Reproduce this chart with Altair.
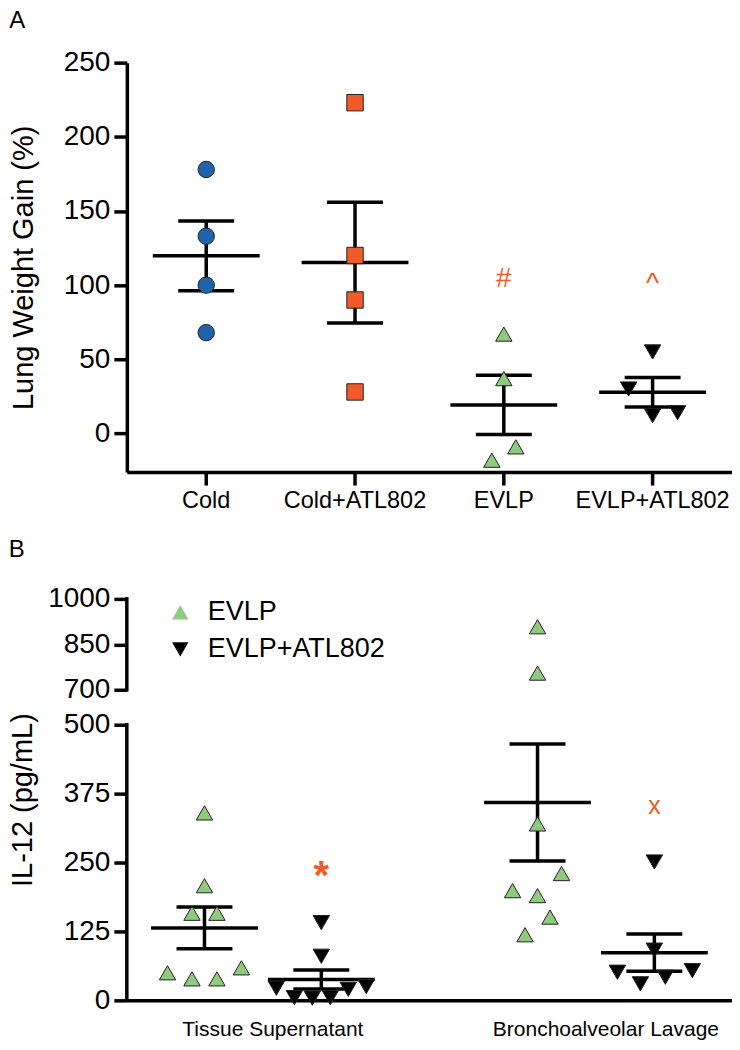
import altair as alt
import pandas as pd

FONT = "Liberation Sans"
ORANGE = "#f15a29"

# ---------------- Panel A data ----------------
groups_a = ["Cold", "Cold+ATL802", "EVLP", "EVLP+ATL802"]
cold = [178, 133, 100, 68]
cold_atl802 = [223, 120, 90, 28]
evlp_a = [67, 37, -9, -18]
evlp_atl802_a = [55, 30, 12, 14]
# horizontal spread of overlapping points
jit_cold = [0, 0, 0, 0]
jit_cold_atl802 = [0, 0, 0, 0]
jit_evlp_a = [0, 0, 12, -12]
jit_evlp_atl802_a = [0, -24, 0, 25]
yticks_a = [0, 50, 100, 150, 200, 250]
colors_a = ["#1f63ad", "#f15a29", "#8fca7e", "#000000"]
shapes_a = ["circle", "square", "triangle-up", "triangle-down"]
sig_groups_a = ["EVLP", "EVLP+ATL802"]
sig_text_a = ["#", "^"]
sig_y_a = [104, 101]

# ---------------- Panel B data ----------------
sites = ["Tissue Supernatant", "Bronchoalveolar Lavage"]
treatments = ["EVLP", "EVLP+ATL802"]
ts_evlp = [340, 208, 158, 158, 50, 39, 39, 59]
ts_atl802 = [141, 80, 22, 5, 4, 5, 20, 25]
bal_evlp = [908, 755, 320, 230, 199, 190, 151, 119]
bal_atl802 = [251, 91, 51, 30, 42, 54]
jit_ts_evlp = [0, 0, -12.5, 12.5, -37, -12.5, 12.5, 37]
jit_ts_atl802 = [0, 0, -45, -27, -9, 9, 27, 45]
jit_bal_evlp = [0, 0, 0, 24, -25, 0, 12.5, -12.5]
jit_bal_atl802 = [0, 0, -37, -14, 11, 38]
yticks_b = [0, 125, 250, 375, 500, 700, 850, 1000]
break_domain = [0, 500, 700, 1000]
seg_lo = [0, 700]
seg_hi = [500, 1000]
star_site = ["Tissue Supernatant"]
star_treat = ["EVLP+ATL802"]
star_text = ["*"]
star_y = [224]
x_site = ["Bronchoalveolar Lavage"]
x_treat = ["EVLP+ATL802"]
x_text = ["x"]
x_y = [352]
colors_b = ["#8fca7e", "#000000"]
shapes_b = ["triangle-up", "triangle-down"]

# ---------------- layout ----------------
W = 606
HA = 410
HB = 402
RANGE_B = [HB, HB - 276, HB - 311, 0]
LW = 3.5
MEAN_W = 107
CAP_W = 56
PT = 270

# ---------------- tables ----------------
rows = []
for g, vs, js in zip(groups_a, [cold, cold_atl802, evlp_a, evlp_atl802_a],
                     [jit_cold, jit_cold_atl802, jit_evlp_a, jit_evlp_atl802_a]):
    for v, j in zip(vs, js):
        rows.append({"group": g, "value": v, "jit": j})
df_a = pd.DataFrame(rows)
sig_a = pd.DataFrame({"group": sig_groups_a, "label": sig_text_a, "y": sig_y_a, "off": [0] * len(sig_groups_a)})

rows = []
for s, t, vs, js in [
    (sites[0], treatments[0], ts_evlp, jit_ts_evlp),
    (sites[0], treatments[1], ts_atl802, jit_ts_atl802),
    (sites[1], treatments[0], bal_evlp, jit_bal_evlp),
    (sites[1], treatments[1], bal_atl802, jit_bal_atl802),
]:
    for v, j in zip(vs, js):
        rows.append({"site": s, "treatment": t, "value": v, "jit": j})
df_b = pd.DataFrame(rows)
star_b = pd.DataFrame({"site": star_site, "treatment": star_treat, "label": star_text, "y": star_y})
xmark_b = pd.DataFrame({"site": x_site, "treatment": x_treat, "label": x_text, "y": x_y})
segs_b = pd.DataFrame({"lo": seg_lo, "hi": seg_hi})

# ---------------- Panel A ----------------
step_a = 149
pad_a = (W / step_a - len(groups_a)) / 2
xsc_a = alt.Scale(type="band", domain=groups_a, paddingInner=0, paddingOuter=pad_a)
xax_a = alt.Axis(title=None, labelAngle=0, labelFontSize=23.5, labelPadding=3,
                 tickSize=13, tickWidth=LW, domainWidth=LW)
ysc_a = alt.Scale(domain=[-26, 250], nice=False, zero=False)
yax_a = alt.Axis(values=yticks_a, title="Lung Weight Gain (%)", titleFontSize=29,
                 titlePadding=25, labelFontSize=28, labelPadding=4, tickSize=13,
                 tickWidth=LW, domainWidth=LW)


def xoff_a(f):
    return alt.XOffset(f, type="quantitative",
                       scale=alt.Scale(domain=[-step_a / 2, step_a / 2], range=[0, step_a],
                                       nice=False, zero=False))


def xa():
    return alt.X("group:N", sort=groups_a, scale=xsc_a, axis=xax_a)


def ya(f):
    return alt.Y(f, type="quantitative", scale=ysc_a, axis=yax_a)


summ_a = alt.Chart(df_a).transform_aggregate(
    m="mean(value)", se="stderr(value)", groupby=["group"]
).transform_calculate(lo="datum.m - datum.se", hi="datum.m + datum.se", off="0")

rule_a = summ_a.mark_rule(strokeWidth=LW, color="black").encode(
    x=xa(), xOffset=xoff_a("off"), y=ya("lo"), y2="hi:Q")
mean_a = summ_a.mark_tick(orient="horizontal", size=MEAN_W, thickness=LW, color="black", opacity=1).encode(
    x=xa(), xOffset=xoff_a("off"), y=ya("m"))
lo_a = summ_a.mark_tick(orient="horizontal", size=CAP_W, thickness=LW, color="black", opacity=1).encode(
    x=xa(), xOffset=xoff_a("off"), y=ya("lo"))
hi_a = summ_a.mark_tick(orient="horizontal", size=CAP_W, thickness=LW, color="black", opacity=1).encode(
    x=xa(), xOffset=xoff_a("off"), y=ya("hi"))
pts_a = alt.Chart(df_a).mark_point(filled=True, size=PT, stroke="#222222", strokeWidth=1, opacity=1).encode(
    x=xa(), xOffset=xoff_a("jit"), y=ya("value"),
    shape=alt.Shape("group:N", scale=alt.Scale(domain=groups_a, range=shapes_a), legend=None),
    fill=alt.Fill("group:N", scale=alt.Scale(domain=groups_a, range=colors_a), legend=None),
)
sigA = alt.Chart(sig_a).mark_text(fontSize=28, color=ORANGE, font=FONT).encode(
    x=xa(), xOffset=xoff_a("off"), y=ya("y"), text="label:N")

panel_a = alt.layer(rule_a, mean_a, lo_a, hi_a, pts_a, sigA).properties(
    width=W, height=HA,
    title=alt.TitleParams("A", anchor="start", frame="bounds", fontSize=24,
                          fontWeight="normal", offset=16, font=FONT, color="black"))

# ---------------- Panel B ----------------
pin_b = 0.183
step_b = W / (len(sites) - pin_b)
bw_b = step_b * (1 - pin_b)
TREAT_SHIFT = 58.5
xsc_b = alt.Scale(type="band", domain=sites, paddingInner=pin_b, paddingOuter=0)
xax_b = alt.Axis(title=None, labelAngle=0, labelFontSize=21, ticks=False, tickSize=0,
                 labelPadding=18, labelOffset=10, labelLimit=400, domainWidth=LW)
ysc_b = alt.Scale(domain=break_domain, range=RANGE_B, nice=False, zero=False)
yax_b = alt.Axis(values=yticks_b, format="d", title="IL-12 (pg/mL)", titleFontSize=29,
                 titlePadding=10, labelFontSize=28, labelPadding=4, tickSize=13,
                 tickWidth=LW, domain=False)


def xoff_b(f):
    return alt.XOffset(f, type="quantitative",
                       scale=alt.Scale(domain=[-bw_b / 2, bw_b / 2], range=[0, bw_b],
                                       nice=False, zero=False))


def xb():
    return alt.X("site:N", sort=sites, scale=xsc_b, axis=xax_b)


def yb(f):
    return alt.Y(f, type="quantitative", scale=ysc_b, axis=yax_b)


shift_expr = f"(datum.treatment == '{treatments[0]}' ? -{TREAT_SHIFT} : {TREAT_SHIFT})"

legend_b = alt.Legend(title=None, orient="none", legendX=40, legendY=0, labelFontSize=27,
                      labelFont=FONT, labelColor="black", labelLimit=400, symbolSize=PT,
                      labelOffset=14, rowPadding=9, padding=0,
                      symbolStrokeColor="#222222", symbolStrokeWidth=1)

segs = alt.Chart(segs_b).mark_rule(strokeWidth=LW, color="black", strokeCap="square").encode(
    x=alt.value(0), y=yb("lo"), y2="hi:Q")

summ_b = alt.Chart(df_b).transform_aggregate(
    m="mean(value)", se="stderr(value)", groupby=["site", "treatment"]
).transform_calculate(lo="datum.m - datum.se", hi="datum.m + datum.se", off=shift_expr)

rule_b = summ_b.mark_rule(strokeWidth=LW, color="black").encode(
    x=xb(), xOffset=xoff_b("off"), y=yb("lo"), y2="hi:Q")
mean_b = summ_b.mark_tick(orient="horizontal", size=MEAN_W, thickness=LW, color="black", opacity=1).encode(
    x=xb(), xOffset=xoff_b("off"), y=yb("m"))
lo_b = summ_b.mark_tick(orient="horizontal", size=CAP_W, thickness=LW, color="black", opacity=1).encode(
    x=xb(), xOffset=xoff_b("off"), y=yb("lo"))
hi_b = summ_b.mark_tick(orient="horizontal", size=CAP_W, thickness=LW, color="black", opacity=1).encode(
    x=xb(), xOffset=xoff_b("off"), y=yb("hi"))
pts_b = alt.Chart(df_b).transform_calculate(
    off=shift_expr + " + datum.jit"
).mark_point(filled=True, size=PT, stroke="#222222", strokeWidth=1, opacity=1).encode(
    x=xb(), xOffset=xoff_b("off"), y=yb("value"),
    shape=alt.Shape("treatment:N", scale=alt.Scale(domain=treatments, range=shapes_b), legend=legend_b),
    fill=alt.Fill("treatment:N", scale=alt.Scale(domain=treatments, range=colors_b), legend=legend_b),
)
star = alt.Chart(star_b).transform_calculate(off=shift_expr).mark_text(
    fontSize=40, fontWeight="bold", color=ORANGE, font=FONT).encode(
    x=xb(), xOffset=xoff_b("off"), y=yb("y"), text="label:N")
xmark = alt.Chart(xmark_b).transform_calculate(off=shift_expr).mark_text(
    fontSize=25, color=ORANGE, font=FONT).encode(
    x=xb(), xOffset=xoff_b("off"), y=yb("y"), text="label:N")

panel_b = alt.layer(segs, rule_b, mean_b, lo_b, hi_b, pts_b, star, xmark).properties(
    width=W, height=HB,
    title=alt.TitleParams("B", anchor="start", frame="bounds", fontSize=24,
                          fontWeight="normal", offset=23, font=FONT, color="black"))

chart = alt.vconcat(panel_a, panel_b, spacing=26).resolve_scale(
    xOffset="independent", shape="independent", fill="independent"
).resolve_legend(
    shape="independent", fill="independent"
).properties(padding=0).configure(
    font=FONT
).configure_view(stroke=None).configure_axis(
    labelFont=FONT, titleFont=FONT, labelColor="black", titleColor="black",
    domainColor="black", tickColor="black", grid=False, titleFontWeight="normal"
)

chart.save("out.html", embed_options={"renderer": "svg", "actions": False})
